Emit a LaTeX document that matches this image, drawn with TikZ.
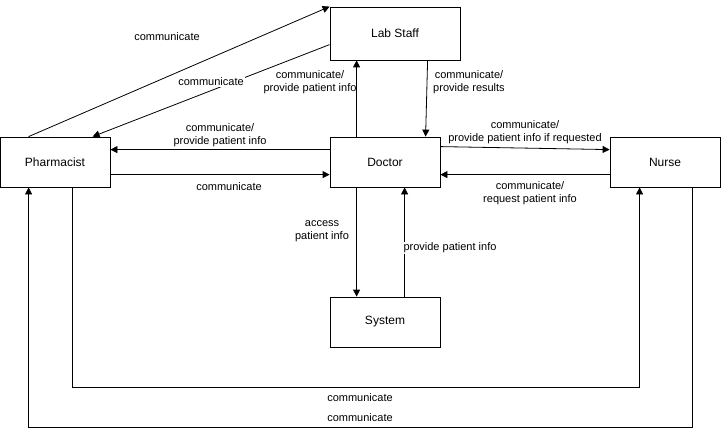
\documentclass[tikz,border=0pt]{standalone}
\usepackage{fontspec}
\setmainfont{Liberation Sans}
\usetikzlibrary{arrows.meta,calc}
\begin{document}
\begin{tikzpicture}[x=1pt,y=-1pt,
  box/.style={draw,line width=0.8pt,minimum width=110pt,minimum height=50pt,inner sep=0pt,font=\fontsize{12}{14}\selectfont},
  conn/.style={line width=0.8pt,-{Triangle[length=7pt,width=7pt]}},
  lbl/.style={font=\fontsize{11}{13.5}\selectfont,align=center,inner sep=1pt,fill=white},
  lblnf/.style={lbl,fill=none}]
\useasboundingbox (0,0) rectangle (721,436);
\node[box,minimum width=130pt,minimum height=53pt] (lab) at (395,33.5) {Lab Staff};
\node[box] (ph) at (55,162) {Pharmacist};
\node[box] (doc) at (385,162) {Doctor};
\node[box] (nur) at (665,162) {Nurse};
\node[box] (sys) at (385,322) {System};
% connectors
\draw[conn] ($(ph.north west)+(29,0)$) -- (lab.north west);
\draw[conn] ($(lab.north west)+(0,38)$) -- ($(ph.north west)+(93,0)$);
\draw[conn] ($(doc.north west)+(27,0)$) -- ($(lab.south west)+(27,0)$);
\draw[conn] ($(lab.south west)+(98,0)$) -- ($(doc.north west)+(96,0)$);
\draw[conn] ($(doc.north west)+(0,13)$) -- ($(ph.north east)+(0,13)$);
\draw[conn] ($(ph.north east)+(0,38)$) -- ($(doc.north west)+(0,38)$);
\draw[conn] ($(doc.north east)+(0,10)$) -- ($(nur.north west)+(0,13)$);
\draw[conn] ($(nur.north west)+(0,38)$) -- ($(doc.north east)+(0,38)$);
\draw[conn] ($(doc.south west)+(27,0)$) -- ($(sys.north west)+(27,0)$);
\draw[conn] ($(sys.north west)+(75,0)$) -- ($(doc.south west)+(75,0)$);
\draw[conn] ($(ph.south west)+(73,0)$) -- ++(0,200) -| ($(nur.south west)+(30,0)$);
\draw[conn] ($(nur.south west)+(83,0)$) -- ++(0,240) -| ($(ph.south west)+(29,0)$);
% labels
\node[lbl] (l1) at (167,37) {communicate};
\node[lbl] (l2) at (211,82) {communicate};
\node[lblnf] (l3) at (310,82) {communicate/\\provide patient info};
\node[lbl] (l4) at (469,82) {communicate/\\provide results};
\node[lbl] (l5) at (220,135) {communicate/\\provide patient info};
\node[lbl] (l6) at (229,187) {communicate};
\node[lbl] (l7) at (525,132) {communicate/\\provide patient info if requested};
\node[lbl] (l8) at (530,193) {communicate/\\request patient info};
\node[lbl] (l9) at (322,231) {access\\patient info};
\node[lbl] (l10) at (450,248) {provide patient info};
\node[lbl] (l11) at (360,398) {communicate};
\node[lbl] (l12) at (360,418) {communicate};
\end{tikzpicture}
\end{document}
